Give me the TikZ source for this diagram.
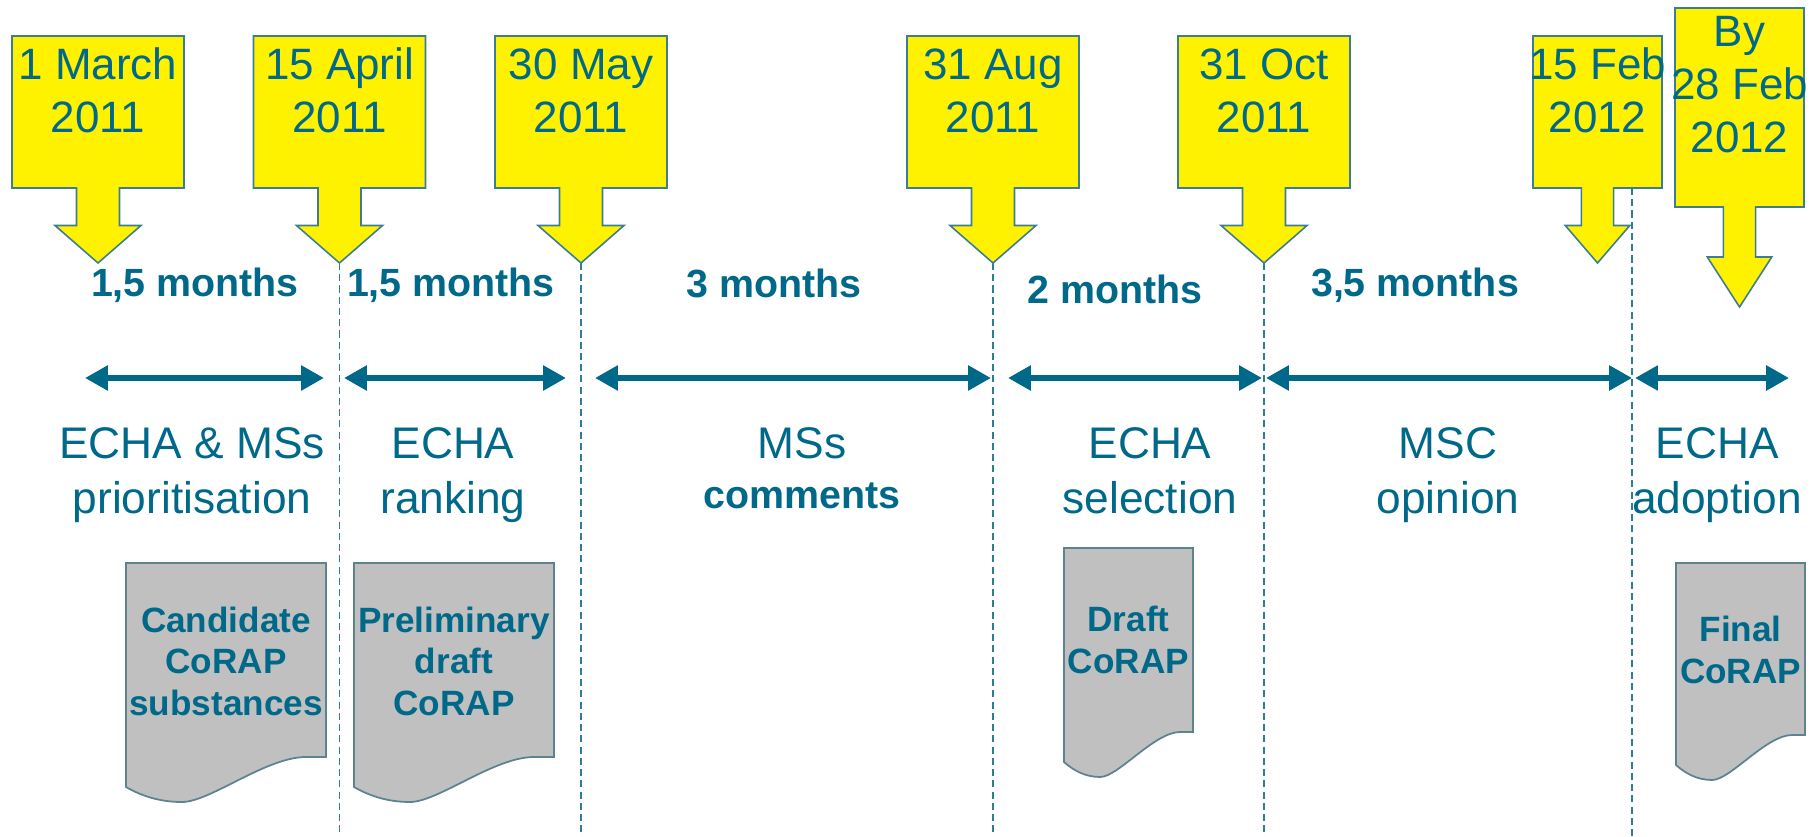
\documentclass[tikz,border=0pt]{standalone}
\usepackage{fontspec}
\setmainfont{Liberation Sans}
\usepackage{tikz}
\usetikzlibrary{
  positioning,
  arrows.meta
}
\usepackage{xcolor}
\definecolor{echateal}{RGB}{0,105,137}
\definecolor{boxedge}{RGB}{60,125,145}
\definecolor{docedge}{RGB}{95,130,145}
\definecolor{docgrey}{RGB}{192,192,192}
\definecolor{marklinecol}{RGB}{45,125,150}

\begin{document}
\begin{tikzpicture}[x=0.1mm,y=-0.1mm,>={Triangle[length=6.5pt,width=6.8pt]},
    datebox/.style={fill=yellow,draw=boxedge,line width=0.45pt},
    datetext/.style={text=echateal,font=\fontsize{12.5}{15.1}\selectfont,align=center,inner sep=0pt},
    span/.style={<->,draw=echateal,line width=1.6pt},
    duration/.style={text=echateal,font=\bfseries\fontsize{11.2}{13}\selectfont,inner sep=0pt},
    phase/.style={text=echateal,font=\fontsize{12.6}{15.6}\selectfont,align=center,inner sep=0pt},
    doc/.style={fill=docgrey,draw=docedge,line width=0.5pt},
    doctext/.style={text=echateal,font=\bfseries\fontsize{10}{11.8}\selectfont,align=center,inner sep=0pt},
    milestone/.style={draw=marklinecol,line width=0.55pt,dash pattern=on 2pt off 1.2pt}]
    \useasboundingbox (0,0) rectangle (1818,837);

    % milestone lines
    \foreach \x/\ys in {339.5/263, 581/263, 993/263, 1264/263, 1632/188}
        \draw[milestone] (\x,\ys) -- (\x,837);

    % date markers: centre/half width/top/bottom/tip/last baseline/name/text
    \foreach \cx/\hw/\ytop/\ybot/\ytip/\yb/\n/\txt in {
        98/86/36/188/263/133/d1/{1 March\\2011},
        339.5/86/36/188/263/133/d2/{15 April\\2011},
        581/86/36/188/263/133/d3/{30 May\\2011},
        993/86/36/188/263/133/d4/{31 Aug\\2011},
        1264/86/36/188/263/133/d5/{31 Oct\\2011},
        1597.5/64.5/36/188/263/133/d6/{15 Feb\\2012},
        1739.5/64.5/8/207/307/153/d7/{By\\28 Feb\\2012}} {
        \draw[datebox] (\cx-\hw,\ytop) -- (\cx+\hw,\ytop) -- (\cx+\hw,\ybot)
            -- (\cx+\hw/4,\ybot) -- (\cx+\hw/4,{(\ybot+\ytip)/2}) -- (\cx+\hw/2,{(\ybot+\ytip)/2})
            -- (\cx,\ytip) -- (\cx-\hw/2,{(\ybot+\ytip)/2}) -- (\cx-\hw/4,{(\ybot+\ytip)/2})
            -- (\cx-\hw/4,\ybot) -- (\cx-\hw,\ybot) -- cycle;
        \node[datetext,anchor=base] (\n) at (\cx,\yb) {\txt};
    }

    % durations
    \foreach \x/\y/\n/\txt in {195/297/m1/{1,5 months}, 451/297/m2/{1,5 months},
        774/298/m3/{3 months}, 1115/303/m4/{2 months}, 1415/297/m5/{3,5 months}}
        \node[duration,anchor=base] (\n) at (\x,\y) {\txt};
    \foreach \a/\b in {85/324, 344/566, 595/991, 1008/1262, 1266/1632, 1635/1789}
        \draw[span] (\a,378) -- (\b,378);

    % phases (base = last line)
    \node[phase,anchor=base] (p1) at (192,513) {ECHA \& MSs\\prioritisation};
    \node[phase,anchor=base] (p2) at (453,513) {ECHA\\ranking};
    \node[phase,anchor=base] (p3) at (802,508) {MSs\\[-1.5pt]{\bfseries\fontsize{11.2}{13}\selectfont comments}};
    \node[phase,anchor=base] (p4) at (1150,513) {ECHA\\selection};
    \node[phase,anchor=base] (p5) at (1448,513) {MSC\\opinion};
    \node[phase,anchor=base] (p6) at (1717,513) {ECHA\\adoption};

    % CoRAP documents: left/top/right/bottom/last baseline/name/text
    \foreach \xl/\ytop/\xr/\ybot/\yb/\n/\txt in {
        126/563/326/757/715/c1/{Candidate\\CoRAP\\substances},
        354/563/554/757/715/c2/{Preliminary\\draft\\CoRAP},
        1064/548/1193/732/673/c3/{Draft\\CoRAP},
        1676/563/1805/735/683/c4/{Final\\CoRAP}} {
        \pgfmathsetmacro\dw{\xr-\xl}
        \draw[doc] (\xl,\ytop) -- (\xr,\ytop) -- (\xr,\ybot) -- (\xr-0.1*\dw,\ybot)
            .. controls (\xr-0.3*\dw,\ybot) and (\xl+0.42*\dw,\ybot+45) .. (\xl+0.28*\dw,\ybot+45)
            .. controls (\xl+0.16*\dw,\ybot+45) and (\xl+0.07*\dw,\ybot+38) .. (\xl,\ybot+30) -- cycle;
        \node[doctext,anchor=base] (\n) at ({(\xl+\xr)/2},\yb) {\txt};
    }
\end{tikzpicture}
\end{document}
